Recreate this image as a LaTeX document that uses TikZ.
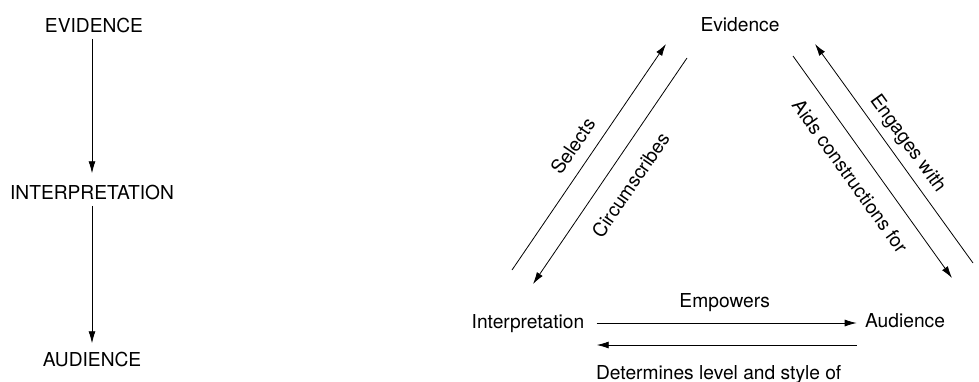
\documentclass[tikz,border=0pt]{standalone}
\usepackage{fontspec}
\setmainfont{TeX Gyre Heros}
\usetikzlibrary{arrows.meta}
\begin{document}
\begin{tikzpicture}[x=0.5pt, y=-0.5pt,
    every node/.style={font=\fontsize{9.6}{11}\selectfont},
    term/.style={anchor=base, inner sep=3pt},
    arr/.style={thin, -{Latex[length=6pt,width=3.5pt]}},
    rarr/.style={thin, {Latex[length=6pt,width=3.5pt]}-},
    lbl/.style={sloped, midway}]
        \useasboundingbox (0,0) rectangle (979,381);

        % Linear model
        \node[term] (evL) at (94, 32) {EVIDENCE};
        \node[term] (intL) at (92, 199) {INTERPRETATION};
        \node[term] (audL) at (92, 366) {AUDIENCE};
        \draw[arr, shorten >=2.5pt] (intL.north |- evL.south) -- (intL.north);
        \draw[arr, shorten >=1pt] (intL.south) -- (audL.north);

        % Triangle model
        \node[term] (ev) at (740, 31) {Evidence};
        \node[term, text height=7pt, text depth=2pt] (interp) at (528, 328) {Interpretation};
        \node[term, text height=7pt, text depth=2pt] (aud) at (905, 327) {Audience};

        \coordinate (selA) at (512, 270);
        \coordinate (selB) at (666, 44);
        \coordinate (circA) at (533, 284);
        \coordinate (circB) at (687, 58);
        \coordinate (engA) at (815, 44);
        \coordinate (engB) at (973, 263);
        \coordinate (aidA) at (793, 56);
        \coordinate (aidB) at (952, 278);

        \draw[arr] (selA) -- (selB) node[lbl, above, inner sep=5.9pt] {Selects};
        \draw[rarr] (circA) -- (circB) node[lbl, below, inner sep=8.5pt] {Circumscribes};
        \draw[rarr] (engA) -- (engB) node[lbl, above, inner sep=3.5pt] {Engages with};
        \draw[arr] (aidA) -- (aidB) node[lbl, below, inner sep=8pt, pos=0.48] {Aids constructions for};

        \draw[arr, shorten <=3pt, shorten >=1pt] (interp.east) -- (interp.east -| aud.west)
            node[midway, above=2pt] {Empowers};
        \draw[rarr, shorten <=3pt, shorten >=1pt] ([yshift=-11pt]interp.east) -- ([yshift=-11pt]interp.east -| aud.west)
            node[midway, below=6.5pt, xshift=-3pt] {Determines level and style of};
\end{tikzpicture}
\end{document}
